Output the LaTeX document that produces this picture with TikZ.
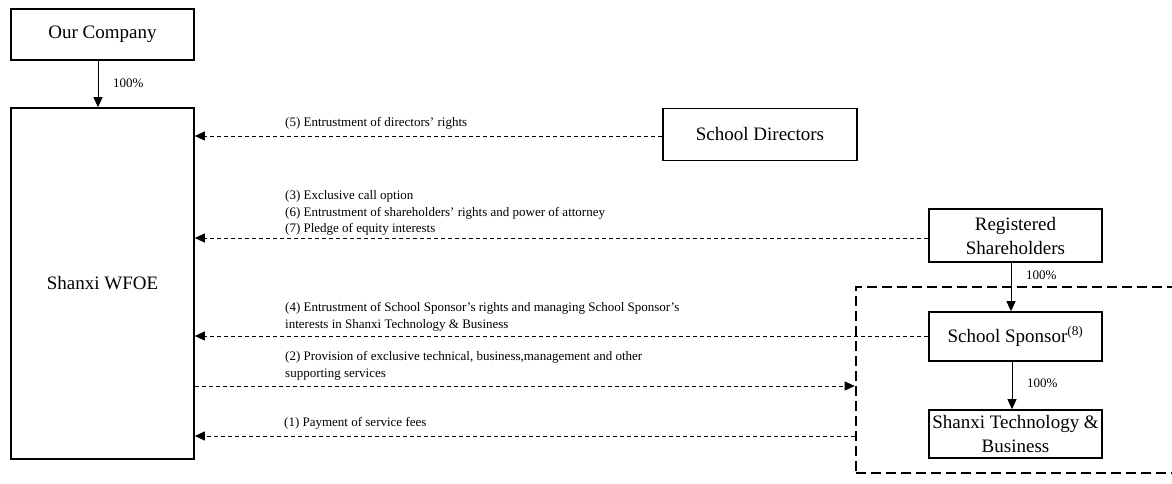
\documentclass[tikz,border=0pt]{standalone}
\usepackage{fontspec}
\setmainfont{Liberation Serif}
\usetikzlibrary{arrows.meta,calc}
\tikzset{
  box/.style={draw, line width=1.6pt, inner sep=0pt, align=center, font=\fontsize{19}{24}\selectfont},
  conn/.style={line width=0.8pt, dash pattern=on 4pt off 3pt},
  carr/.style={conn, -{Triangle[length=10pt,width=9pt]}},
  own/.style={line width=1pt, -{Triangle[length=10pt,width=9pt]}},
  lbl/.style={anchor=base west, inner sep=0pt, font=\fontsize{13}{16}\selectfont},
  grpbox/.style={draw, line width=2.6pt, dash pattern=on 10pt off 5pt, inner sep=0pt}
}
\begin{document}
\begin{tikzpicture}[x=1pt,y=-1pt]
\useasboundingbox (0,0) rectangle (1172,484);
% boxes
\node[box, minimum width=183pt, minimum height=51pt] (oc) at (102.5,34.5) {Our Company};
\node[box, minimum width=183pt, minimum height=351pt] (wfoe) at (102.5,283.5) {Shanxi WFOE};
\node[box, minimum width=194pt, minimum height=52pt] (sd) at (760,134.5) {School Directors};
\node[box, minimum width=173pt, minimum height=53pt] (rs) at (1015.5,235.5) {Registered\\Shareholders};
\node[box, minimum width=173pt, minimum height=49pt] (ss) at (1015.5,336.5) {School Sponsor\textsuperscript{(8)}};
\node[box, minimum width=173pt, minimum height=48pt] (st) at (1015.5,434) {Shanxi Technology \&\\Business};
\node[grpbox, minimum width=330pt, minimum height=186pt] (grp) at (1021,380) {};
% ownership arrows
\draw[own] ($(oc.south)+(-4.5,0)$) -- ($(wfoe.north)+(-4.5,0)$);
\node[lbl] (p1) at (113,87.5) {100\%};
\draw[own] ($(rs.south)+(-4.5,0)$) -- ($(ss.north)+(-4.5,0)$);
\node[lbl] (p2) at (1026,279.5) {100\%};
\draw[own] ($(ss.south)+(-3.5,0)$) -- ($(st.north)+(-3.5,0)$);
\node[lbl] (p3) at (1027,387.5) {100\%};
% contractual arrows
\coordinate (y5) at (0,136);
\coordinate (y3) at (0,238);
\coordinate (y4) at (0,336);
\coordinate (y2) at (0,386);
\coordinate (y1) at (0,436);
\draw[carr] (sd.west |- y5) -- (wfoe.east |- y5);
\draw[carr] (rs.west |- y3) -- (wfoe.east |- y3);
\draw[carr] (ss.west |- y4) -- (wfoe.east |- y4);
\draw[carr] (wfoe.east |- y2) -- (grp.west |- y2);
\draw[carr] (grp.west |- y1) -- (wfoe.east |- y1);
% labels
\node[lbl] (l5) at (285,127) {(5) Entrustment of directors’ rights};
\node[lbl] (l3) at (285,199.5) {(3) Exclusive call option};
\node[lbl] (l6) at (285,216) {(6) Entrustment of shareholders’ rights and power of attorney};
\node[lbl] (l7) at (285,232.5) {(7) Pledge of equity interests};
\node[lbl] (l4a) at (285,311.5) {(4) Entrustment of School Sponsor’s rights and managing School Sponsor’s};
\node[lbl] (l4b) at (285,328.5) {interests in Shanxi Technology \& Business};
\node[lbl] (l2a) at (285,360) {(2) Provision of exclusive technical, business,management and other};
\node[lbl] (l2b) at (285,377) {supporting services};
\node[lbl] (l1) at (284,426) {(1) Payment of service fees};
\end{tikzpicture}
\end{document}
